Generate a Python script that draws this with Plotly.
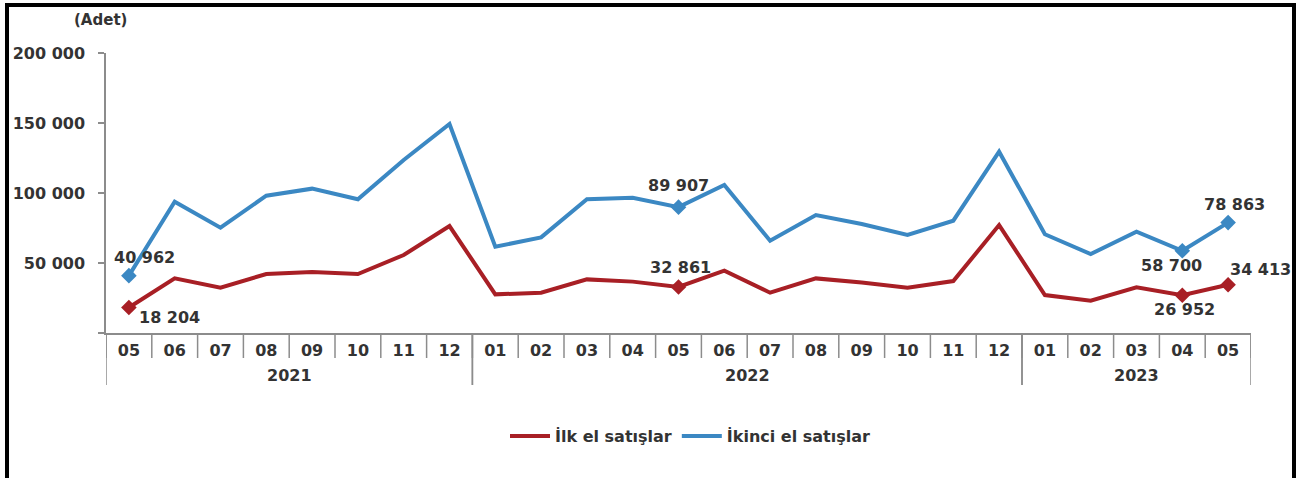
import plotly.graph_objects as go

# Monthly housing sales (units), May 2021 - May 2023
years = ["2021"] * 8 + ["2022"] * 12 + ["2023"] * 5
months = ["05", "06", "07", "08", "09", "10", "11", "12",
          "01", "02", "03", "04", "05", "06", "07", "08", "09", "10", "11", "12",
          "01", "02", "03", "04", "05"]

ilk_el = [18204, 39000, 32400, 42100, 43600, 42100, 55700, 76400,
          27600, 28800, 38300, 36700, 32861, 44500, 28800, 39000, 36000, 32400, 37100, 77100,
          27100, 23100, 32600, 26952, 34413]
ikinci_el = [40962, 93800, 75200, 98100, 103100, 95500, 123600, 149300,
             61600, 68300, 95500, 96600, 89907, 105700, 65900, 84300, 77900, 70000, 80200, 129500,
             70500, 56400, 72400, 58700, 78863]

y_tickvals = [0, 50000, 100000, 150000, 200000]
y_ticktext = ["", "50 000", "100 000", "150 000", "200 000"]

# indices of the highlighted (labelled) months
labelled = [0, 12, 23, 24]

# label offsets in pixels (xshift, yshift) per labelled index
ilk_offsets = {0: (41, -10), 12: (2, 19), 23: (2, -14), 24: (32, 15)}
ikinci_offsets = {0: (16, 18), 12: (0, 22), 23: (-11, -15), 24: (6, 18)}

RED = "#A81F25"
BLUE = "#3B88C3"
AXIS = "#8C8C8C"
TEXT = "#333333"
FONT = "DejaVu Sans"
FS = 16

W, H = 1300, 478
ML, MR, MT, MB = 106, 49, 53, 145
PW, PH = W - ML - MR, H - MT - MB

MONTH_TICK = 25   # separator length below the axis, px
YEAR_TICK = 52    # year divider length below the axis, px
YEAR_LABEL = 42   # year label centre below the axis, px


def fmt(v):
    return f"{v:,}".replace(",", " ")


def px_x(p):
    return (p - ML) / PW


def px_y(p):
    return (H - MB - p) / PH


idx = list(range(len(months)))

fig = go.Figure()
for name, vals, color in [
    ("İlk el satışlar", ilk_el, RED),
    ("İkinci el satışlar", ikinci_el, BLUE),
]:
    fig.add_trace(go.Scatter(
        x=idx, y=vals, name=name, mode="lines",
        line=dict(color=color, width=4),
    ))
    fig.add_trace(go.Scatter(
        x=labelled, y=[vals[i] for i in labelled], mode="markers", showlegend=False,
        marker=dict(symbol="diamond", size=12, color=color, line=dict(width=0)),
        hoverinfo="skip",
    ))

annotations = []
for vals, offsets in [(ilk_el, ilk_offsets), (ikinci_el, ikinci_offsets)]:
    for i, (dx, dy) in offsets.items():
        annotations.append(dict(
            x=i, y=vals[i], xref="x", yref="y", text=fmt(vals[i]),
            showarrow=False, xshift=dx, yshift=dy,
            font=dict(family=FONT, size=FS, color=TEXT, weight="bold"),
        ))

annotations.append(dict(
    x=px_x(100), y=px_y(20), xref="paper", yref="paper", text="(Adet)",
    showarrow=False, xanchor="center", yanchor="middle",
    font=dict(family=FONT, size=15, color=TEXT, weight="bold"),
))

shapes = []
# separators between months
for b in range(len(months) + 1):
    shapes.append(dict(
        type="line", xref="x", yref="paper", x0=b - 0.5, x1=b - 0.5,
        y0=0, y1=-MONTH_TICK / PH, line=dict(color=AXIS, width=1.5),
    ))

# year groups: long dividers at the edges, label in the middle
groups = []
for i, yr in enumerate(years):
    if not groups or groups[-1][0] != yr:
        groups.append([yr, i, i])
    else:
        groups[-1][2] = i
for yr, a, b in groups:
    for edge in (a - 0.5, b + 0.5):
        shapes.append(dict(
            type="line", xref="x", yref="paper", x0=edge, x1=edge,
            y0=0, y1=-YEAR_TICK / PH, line=dict(color=AXIS, width=1.5),
        ))
    annotations.append(dict(
        x=(a + b) / 2, y=-YEAR_LABEL / PH, xref="x", yref="paper", text=yr,
        showarrow=False, xanchor="center", yanchor="middle",
        font=dict(family=FONT, size=FS, color=TEXT, weight="bold"),
    ))

# outer black frame (bottom edge falls below the visible page)
shapes.append(dict(
    type="rect", xref="paper", yref="paper",
    x0=px_x(7), x1=px_x(1294), y0=px_y(H + 20), y1=px_y(5),
    line=dict(color="black", width=4), fillcolor="rgba(0,0,0,0)", layer="above",
))

fig.update_layout(
    width=W, height=H,
    margin=dict(l=ML, r=MR, t=MT, b=MB),
    paper_bgcolor="white", plot_bgcolor="white",
    font=dict(family=FONT, size=FS, color=TEXT, weight="bold"),
    showlegend=True,
    legend=dict(
        orientation="h", x=px_x(690), y=px_y(436), xanchor="center", yanchor="middle",
        font=dict(family=FONT, size=FS, color=TEXT, weight="bold"),
        itemwidth=40, tracegroupgap=0,
    ),
    annotations=annotations,
    shapes=shapes,
    xaxis=dict(
        range=[-0.5, len(months) - 0.5],
        tickvals=idx, ticktext=months,
        showline=True, linecolor=AXIS, linewidth=1.5,
        ticks="", ticklabelstandoff=2,
        showgrid=False, zeroline=False,
        tickfont=dict(family=FONT, size=FS, color=TEXT, weight="bold"),
    ),
    yaxis=dict(
        range=[0, 200000],
        tickvals=y_tickvals, ticktext=y_ticktext,
        showline=True, linecolor=AXIS, linewidth=1.5,
        ticks="outside", ticklen=6, tickcolor=AXIS, tickwidth=1.5,
        ticklabelstandoff=10,
        showgrid=False, zeroline=False,
        tickfont=dict(family=FONT, size=FS, color=TEXT, weight="bold"),
    ),
)

fig.write_html("out.html")
